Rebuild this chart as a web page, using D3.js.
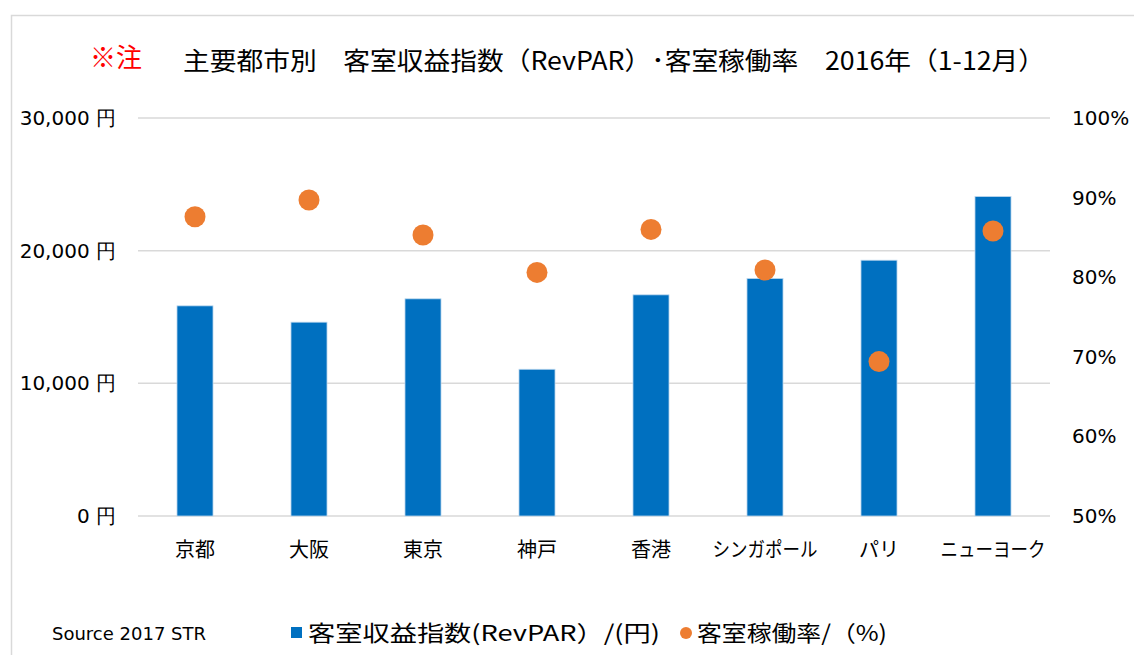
<!DOCTYPE html>
<html>
<head>
<meta charset="utf-8">
<script src="https://cdn.jsdelivr.net/npm/d3@7"></script>
<style>
  body { margin: 0; background: #fff; }
  text { fill: #000; }
</style>
</head>
<body>
<script>
// data
var cities = ["京都", "大阪", "東京", "神戸", "香港", "シンガポール", "パリ", "ニューヨーク"];
var revpar = [15840, 14610, 16370, 11060, 16670, 17900, 19280, 24080];
var occupancy = [87.6, 89.7, 85.3, 80.6, 86.0, 80.9, 69.4, 85.8];
var leftTicks = [0, 10000, 20000, 30000];
var rightTicks = [50, 60, 70, 80, 90, 100];

var width = 1134, height = 655;
var jp = "'Noto Sans CJK JP', 'Noto Sans', sans-serif";
var num = "'DejaVu Sans', Verdana, sans-serif";

var svg = d3.select("body")
    .append("svg")
    .attr("width", width)
    .attr("height", height);

// chart frame
svg.append("rect")
    .attr("x", 11.5)
    .attr("y", 15.5)
    .attr("width", width + 20)
    .attr("height", height + 20)
    .attr("fill", "#fff")
    .attr("stroke", "#d9d9d9")
    .attr("stroke-width", 1.5);

var plot = { left: 138, right: 1050, top: 118, bottom: 516 };

var x = d3.scaleBand()
    .domain(cities)
    .range([plot.left, plot.right])
    .paddingInner(0.684)
    .paddingOuter(0.342);

var yL = d3.scaleLinear().domain([0, 30000]).range([plot.bottom, plot.top]);
var yR = d3.scaleLinear().domain([50, 100]).range([plot.bottom, plot.top]);

// gridlines
svg.append("g")
    .selectAll("line")
    .data(leftTicks)
    .enter()
    .append("line")
    .attr("x1", plot.left)
    .attr("x2", plot.right)
    .attr("y1", d => yL(d))
    .attr("y2", d => yL(d))
    .attr("stroke", "#d9d9d9")
    .attr("stroke-width", 1.5);

// left axis labels
svg.append("g")
    .selectAll("text")
    .data(leftTicks)
    .enter()
    .append("text")
    .attr("x", 116)
    .attr("y", d => yL(d))
    .attr("dy", "0.35em")
    .attr("text-anchor", "end")
    .style("font-family", num)
    .style("font-size", "20px")
    .text(d => d3.format(",")(d) + " 円");

// right axis labels
svg.append("g")
    .selectAll("text")
    .data(rightTicks)
    .enter()
    .append("text")
    .attr("x", 1072)
    .attr("y", d => yR(d))
    .attr("dy", "0.35em")
    .style("font-family", num)
    .style("font-size", "20px")
    .text(d => d + "%");

// category labels (katakana in the original are narrower)
svg.append("g")
    .selectAll("text")
    .data(cities)
    .enter()
    .append("text")
    .attr("x", d => x(d) + x.bandwidth() / 2)
    .attr("y", 550)
    .attr("dy", "0.35em")
    .attr("text-anchor", "middle")
    .attr("textLength", d => d.length > 3 ? d.length * 17.5 : null)
    .attr("lengthAdjust", "spacingAndGlyphs")
    .style("font-family", jp)
    .style("font-size", "20px")
    .text(d => d);

// bars
svg.append("g")
    .selectAll("rect")
    .data(revpar)
    .enter()
    .append("rect")
    .attr("x", (d, i) => x(cities[i]))
    .attr("y", d => yL(d))
    .attr("width", x.bandwidth())
    .attr("height", d => yL(0) - yL(d))
    .attr("fill", "#0070c0")
    .attr("stroke", "#bcd7ee")
    .attr("stroke-width", 0.8);

// occupancy dots
svg.append("g")
    .selectAll("circle")
    .data(occupancy)
    .enter()
    .append("circle")
    .attr("cx", (d, i) => x(cities[i]) + x.bandwidth() / 2)
    .attr("cy", d => yR(d))
    .attr("r", 10.5)
    .attr("fill", "#ed7d31");

// title
svg.append("text")
    .attr("x", 90)
    .attr("y", 58)
    .attr("dy", "0.35em")
    .style("font-family", jp)
    .style("font-size", "26px")
    .style("fill", "#ff0000")
    .text("※注");

svg.append("text")
    .attr("x", 183)
    .attr("y", 61)
    .attr("dy", "0.35em")
    .attr("textLength", 862)
    .attr("lengthAdjust", "spacingAndGlyphs")
    .style("font-family", jp)
    .style("font-size", "25px")
    .text("主要都市別　客室収益指数（RevPAR）･客室稼働率　2016年（1-12月）");

// legend
svg.append("text")
    .attr("x", 52)
    .attr("y", 634)
    .attr("dy", "0.35em")
    .style("font-family", num)
    .style("font-size", "18px")
    .text("Source 2017 STR");

svg.append("rect")
    .attr("x", 291)
    .attr("y", 627)
    .attr("width", 11)
    .attr("height", 11)
    .attr("fill", "#0070c0");

svg.append("text")
    .attr("x", 308)
    .attr("y", 633)
    .attr("dy", "0.35em")
    .attr("textLength", 352)
    .attr("lengthAdjust", "spacingAndGlyphs")
    .style("font-family", jp)
    .style("font-size", "22px")
    .text("客室収益指数(RevPAR）/(円)");

svg.append("circle")
    .attr("cx", 686)
    .attr("cy", 633)
    .attr("r", 6)
    .attr("fill", "#ed7d31");

svg.append("text")
    .attr("x", 697)
    .attr("y", 633)
    .attr("dy", "0.35em")
    .attr("textLength", 190)
    .attr("lengthAdjust", "spacingAndGlyphs")
    .style("font-family", jp)
    .style("font-size", "22px")
    .text("客室稼働率/（%)");
</script>
</body>
</html>
